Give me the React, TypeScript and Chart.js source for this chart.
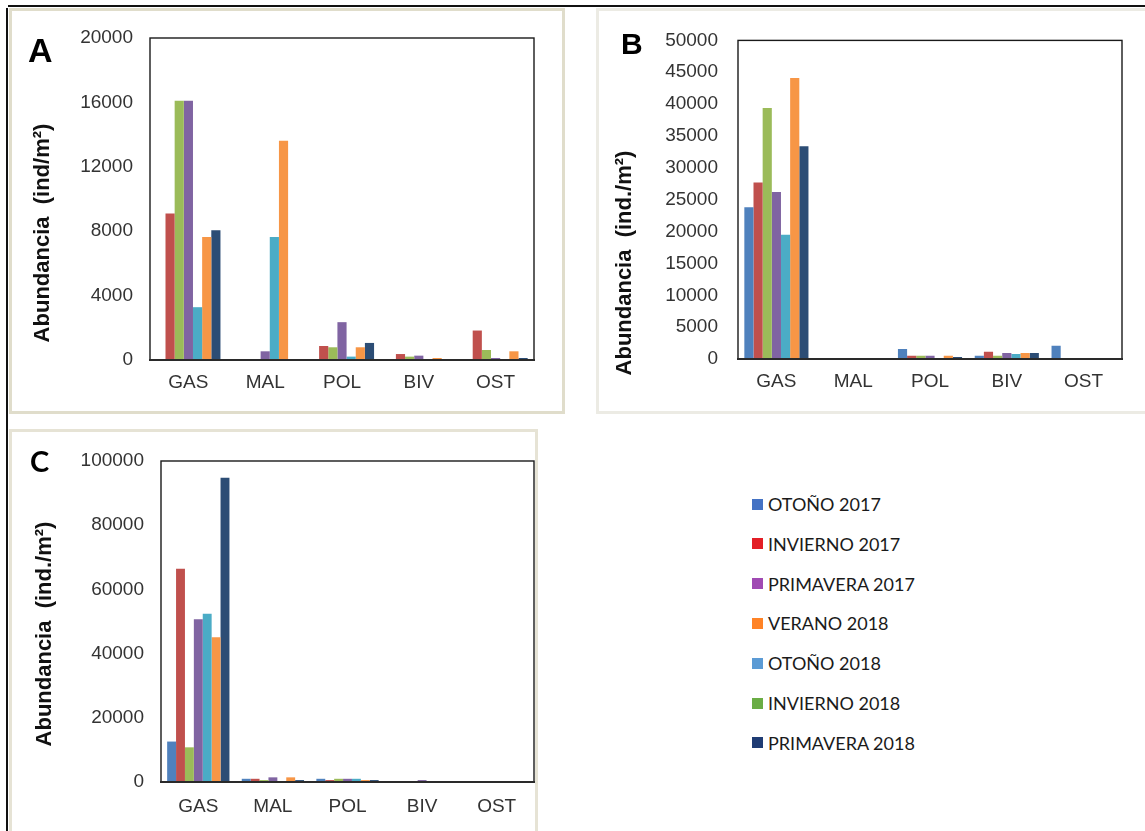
import React, { useEffect, useRef } from "react";
import { Chart, registerables } from "chart.js";

Chart.register(...registerables);

// Taxonomic groups on the x axis
const categories = ["GAS", "MAL", "POL", "BIV", "OST"];

// Season series, in bar order
const seriesLabels = [
  "OTOÑO 2017",
  "INVIERNO 2017",
  "INVIERNO 2018",
  "PRIMAVERA 2017",
  "OTOÑO 2018",
  "VERANO 2018",
  "PRIMAVERA 2018",
];
const barColors = ["#4F81BD", "#C0504D", "#9BBB59", "#8064A2", "#4BACC6", "#F79646", "#2C4D75"];

// Panel A – abundance (ind/m²)
const otono2017A = [0, 0, 0, 0, 0];
const invierno2017A = [9100, 0, 870, 370, 1830];
const invierno2018A = [16100, 0, 790, 210, 620];
const primavera2017A = [16100, 540, 2350, 270, 125];
const otono2018A = [3280, 7640, 210, 0, 0];
const verano2018A = [7640, 13620, 790, 125, 540];
const primavera2018A = [8060, 0, 1060, 0, 125];

// Panel B – abundance (ind./m²)
const otono2017B = [23800, 0, 1560, 520, 2080];
const invierno2017B = [27700, 0, 520, 1140, 0];
const invierno2018B = [39400, 0, 520, 520, 0];
const primavera2017B = [26200, 0, 520, 930, 0];
const otono2018B = [19500, 0, 0, 780, 0];
const verano2018B = [44100, 0, 520, 930, 0];
const primavera2018B = [33400, 0, 310, 930, 0];

// Panel C – abundance (ind./m²)
const otono2017C = [12600, 1000, 1000, 0, 0];
const invierno2017C = [66400, 1000, 600, 0, 0];
const invierno2018C = [10800, 600, 1000, 0, 0];
const primavera2017C = [50700, 1450, 1000, 600, 0];
const otono2018C = [52400, 0, 1000, 0, 0];
const verano2018C = [45100, 1450, 600, 0, 0];
const primavera2018C = [94800, 600, 600, 0, 0];

// Y axis ranges
const yMaxA = 20000;
const yStepA = 4000;
const yMaxB = 50000;
const yStepB = 5000;
const yMaxC = 100000;
const yStepC = 20000;

// Separate legend block (its own labels and swatch colours)
const legendLabels = [
  "OTOÑO 2017",
  "INVIERNO 2017",
  "PRIMAVERA 2017",
  "VERANO 2018",
  "OTOÑO 2018",
  "INVIERNO 2018",
  "PRIMAVERA 2018",
];
const legendColors = ["#4472C4", "#E31E26", "#A04AB3", "#FF8326", "#5B9BD5", "#6AAD45", "#1F3C74"];

const tickFont = { family: '"Liberation Sans", Arial, sans-serif', size: 19 };

// Draws the plot box and the rotated y-axis title
const framePlugin = {
  id: "panelFrame",
  afterDraw(chart: any, _args: any, opts: any) {
    const { ctx, chartArea } = chart;
    const { left, top, right, bottom } = chartArea;
    ctx.save();
    ctx.strokeStyle = "#1a1a1a";
    ctx.lineWidth = 1.4;
    ctx.strokeRect(left, top, right - left, bottom - top);
    ctx.strokeStyle = "#2a2a2a";
    ctx.lineWidth = 2.2;
    ctx.beginPath();
    ctx.moveTo(left - 1, bottom);
    ctx.lineTo(right + 1, bottom);
    ctx.stroke();
    if (opts && opts.title) {
      ctx.translate(opts.titleX, opts.titleY);
      ctx.rotate(-Math.PI / 2);
      ctx.fillStyle = "#111";
      ctx.font = 'bold 22px "Liberation Sans", Arial, sans-serif';
      ctx.textAlign = "center";
      ctx.textBaseline = "middle";
      ctx.fillText(opts.title, 0, 0);
    }
    ctx.restore();
  },
};

type PanelProps = {
  series: number[][];
  yMax: number;
  yStep: number;
  left: number;
  top: number;
  width: number;
  height: number;
  padTop: number;
  padRight: number;
  yWidth: number;
  xHeight: number;
  yPad: number;
  xPad: number;
  title: string;
  titleX: number;
  titleY: number;
};

function Panel(p: PanelProps) {
  const ref = useRef<HTMLCanvasElement | null>(null);
  useEffect(() => {
    if (!ref.current) return;
    const chart = new Chart(ref.current, {
      type: "bar",
      data: {
        labels: categories,
        datasets: seriesLabels.map((label, i) => ({
          label,
          data: p.series[i],
          backgroundColor: barColors[i],
          borderWidth: 0,
          categoryPercentage: 0.835,
          barPercentage: 1,
        })),
      },
      options: {
        animation: false,
        responsive: false,
        maintainAspectRatio: false,
        devicePixelRatio: 1,
        layout: { padding: { top: p.padTop, right: p.padRight, left: 0, bottom: 0 } },
        plugins: {
          legend: { display: false },
          tooltip: { enabled: false },
          panelFrame: { title: p.title, titleX: p.titleX, titleY: p.titleY },
        } as any,
        scales: {
          x: {
            grid: { display: false, drawTicks: false },
            border: { display: false },
            ticks: { font: tickFont, color: "#333", padding: p.xPad, maxRotation: 0, autoSkip: false },
            afterFit: (s: any) => {
              s.height = p.xHeight;
            },
          },
          y: {
            min: 0,
            max: p.yMax,
            grid: { display: false, drawTicks: false },
            border: { display: false },
            ticks: {
              stepSize: p.yStep,
              font: tickFont,
              color: "#333",
              padding: p.yPad,
              autoSkip: false,
              callback: (v: any) => String(v),
            },
            afterFit: (s: any) => {
              s.width = p.yWidth;
            },
          },
        },
      },
      plugins: [framePlugin],
    });
    return () => chart.destroy();
  }, []);
  return (
    <canvas
      ref={ref}
      width={p.width}
      height={p.height}
      style={{ position: "absolute", left: p.left, top: p.top, width: p.width, height: p.height }}
    />
  );
}

const letterStyle: React.CSSProperties = {
  position: "absolute",
  fontFamily: '"Liberation Sans", Arial, sans-serif',
  fontWeight: 700,
  color: "#000",
  lineHeight: 1,
};

export default function App() {
  return (
    <div
      style={{
        position: "fixed",
        left: 0,
        top: 0,
        width: 1145,
        height: 831,
        background: "#fff",
        overflow: "hidden",
      }}
    >
      {/* outer rules */}
      <div style={{ position: "absolute", left: 8, top: 5, width: 1137, height: 2, background: "#111" }} />
      <div style={{ position: "absolute", left: 6, top: 8, width: 2, height: 823, background: "#111" }} />

      {/* panel frames */}
      <div
        style={{
          position: "absolute",
          left: 9,
          top: 8,
          width: 556,
          height: 406,
          boxSizing: "border-box",
          border: "3px solid #E0DDCB",
        }}
      />
      <div
        style={{
          position: "absolute",
          left: 596,
          top: 8,
          width: 560,
          height: 406,
          boxSizing: "border-box",
          border: "3px solid #ECEBE4",
        }}
      />
      <div
        style={{
          position: "absolute",
          left: 9,
          top: 429,
          width: 529,
          height: 420,
          boxSizing: "border-box",
          border: "3px solid #E6E3D5",
        }}
      />

      <Panel
        series={[otono2017A, invierno2017A, invierno2018A, primavera2017A, otono2018A, verano2018A, primavera2018A]}
        yMax={yMaxA}
        yStep={yStepA}
        left={10}
        top={9}
        width={553}
        height={404}
        padTop={29}
        padRight={29}
        yWidth={140}
        xHeight={53}
        yPad={17}
        xPad={11}
        title="Abundancia  (ind/m²)"
        titleX={33}
        titleY={224}
      />
      <Panel
        series={[otono2017B, invierno2017B, invierno2018B, primavera2017B, otono2018B, verano2018B, primavera2018B]}
        yMax={yMaxB}
        yStep={yStepB}
        left={598}
        top={9}
        width={547}
        height={403}
        padTop={29}
        padRight={23}
        yWidth={140}
        xHeight={53}
        yPad={20}
        xPad={11}
        title="Abundancia  (ind./m²)"
        titleX={27}
        titleY={254}
      />
      <Panel
        series={[otono2017C, invierno2017C, invierno2018C, primavera2017C, otono2018C, verano2018C, primavera2018C]}
        yMax={yMaxC}
        yStep={yStepC}
        left={10}
        top={430}
        width={527}
        height={401}
        padTop={31}
        padRight={3}
        yWidth={151}
        xHeight={49}
        yPad={17}
        xPad={13}
        title="Abundancia  (ind./m²)"
        titleX={35}
        titleY={204}
      />

      {/* panel letters */}
      <div style={{ ...letterStyle, left: 28, top: 33, fontSize: 34 }}>A</div>
      <div style={{ ...letterStyle, left: 621, top: 29, fontSize: 30 }}>B</div>
      <div style={{ ...letterStyle, left: 30, top: 446, fontSize: 29, fontFamily: "Lato, sans-serif" }}>C</div>

      {/* legend */}
      {legendLabels.map((label, i) => {
        const cy = 504 + i * 39.8;
        return (
          <div key={label}>
            <div
              style={{
                position: "absolute",
                left: 752,
                top: cy - 5.5,
                width: 11,
                height: 11,
                background: legendColors[i],
              }}
            />
            <div
              style={{
                position: "absolute",
                left: 768,
                top: cy - 12,
                height: 24,
                lineHeight: "24px",
                fontFamily: "Lato, sans-serif",
                fontSize: 18,
                color: "#1a1a1a",
                whiteSpace: "nowrap",
              }}
            >
              {label}
            </div>
          </div>
        );
      })}
    </div>
  );
}
